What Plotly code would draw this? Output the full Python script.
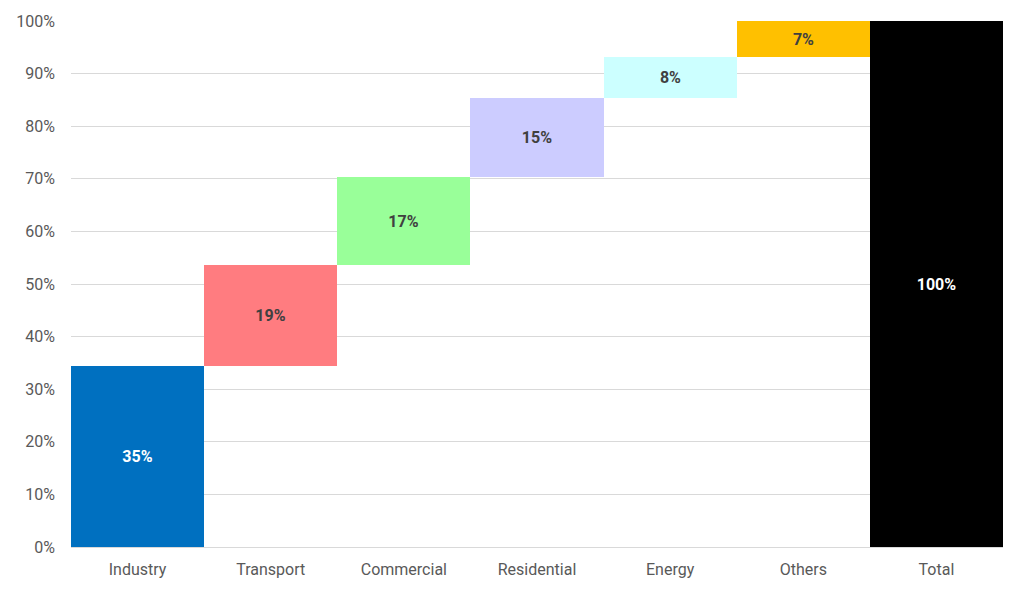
import numpy as np
import plotly.graph_objects as go

categories = ["Industry", "Transport", "Commercial", "Residential", "Energy", "Others", "Total"]
shares = [34.5, 19.2, 16.6, 15.1, 7.8, 6.8]
labels = ["35%", "19%", "17%", "15%", "8%", "7%", "100%"]
colors = ["#0070C0", "#FF7C80", "#99FF99", "#CCCCFF", "#CCFFFF", "#FFC000", "#000000"]
label_colors = ["#FFFFFF", "#404040", "#404040", "#404040", "#404040", "#404040", "#FFFFFF"]

total = float(np.sum(shares))
bases = list(np.concatenate([[0.0], np.cumsum(shares)[:-1]])) + [0.0]
heights = list(shares) + [total]

fig = go.Figure(go.Bar(
    x=categories,
    y=heights,
    base=bases,
    marker=dict(color=colors, line=dict(width=0)),
    text=labels,
    textposition="inside",
    insidetextanchor="middle",
    textangle=0,
    textfont=dict(family="Roboto", size=16, color=label_colors, weight="bold"),
    hoverinfo="skip",
))

fig.update_layout(
    width=1008, height=576,
    margin=dict(l=63, r=13, t=13, b=37, autoexpand=False),
    paper_bgcolor="white", plot_bgcolor="white",
    bargap=0,
    showlegend=False,
    font=dict(family="Roboto", size=16, color="#595959"),
)
fig.update_yaxes(
    range=[0, 100], dtick=10, ticksuffix="%", automargin=False,
    showgrid=True, gridcolor="#D9D9D9", gridwidth=1,
    zeroline=True, zerolinecolor="#D9D9D9", zerolinewidth=1,
    showline=False, ticks="", ticklabelstandoff=15,
    tickfont=dict(family="Roboto", size=16, color="#595959"),
)
fig.update_xaxes(
    showgrid=False, showline=False, ticks="", automargin=False,
    tickfont=dict(family="Roboto", size=16, color="#595959"),
    ticklabelstandoff=11,
)

fig.write_html("out.html")
